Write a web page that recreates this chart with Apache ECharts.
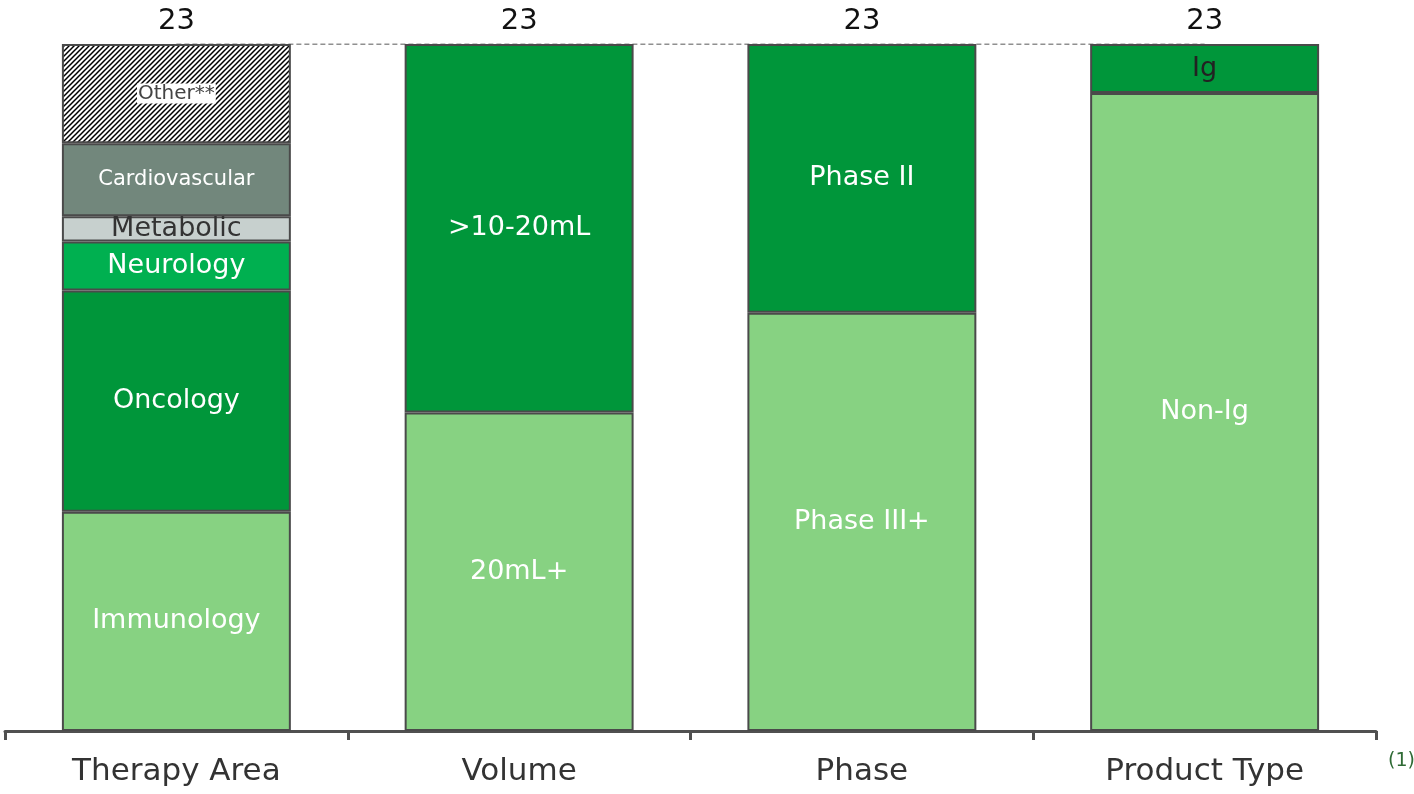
<!DOCTYPE html>
<html>
<head>
<meta charset="utf-8">
<script src="https://cdn.jsdelivr.net/npm/echarts@6/dist/echarts.min.js"></script>
<style>
  html, body { margin: 0; padding: 0; background: #fff; }
  #chart { width: 1414px; height: 794px; }
</style>
</head>
<body>
<div id="chart"></div>
<script>
const categories = ["Therapy Area", "Volume", "Phase", "Product Type"];
const totals = [23, 23, 23, 23];

// segments per bar, bottom to top (value = share of the 23 programs)
const therapyNames = ["Immunology", "Oncology", "Neurology", "Metabolic", "Cardiovascular", "Other**"];
const therapyValues = [7.34, 7.41, 1.64, 0.84, 2.45, 3.32];
const volumeNames = ["20mL+", ">10-20mL"];
const volumeValues = [10.66, 12.34];
const phaseNames = ["Phase III+", "Phase II"];
const phaseValues = [14, 9];
const productNames = ["Non-Ig", "Ig"];
const productValues = [21.36, 1.64];

const font = "DejaVu Sans";
const light = "#87d282";
const dark = "#00963a";

// hatch pattern for "Other**"
function hatch() {
  const c = document.createElement("canvas");
  c.width = 5;
  c.height = 5;
  const ctx = c.getContext("2d");
  ctx.fillStyle = "#fff";
  ctx.fillRect(0, 0, 5, 5);
  ctx.strokeStyle = "#000";
  ctx.lineWidth = 1.5;
  ctx.beginPath();
  ctx.moveTo(-1, 6); ctx.lineTo(6, -1);
  ctx.moveTo(-1, 1); ctx.lineTo(1, -1);
  ctx.moveTo(4, 6); ctx.lineTo(6, 4);
  ctx.stroke();
  return c;
}

const styles = {
  "Immunology": { color: light, text: "#fff", size: 27 },
  "Oncology": { color: dark, text: "#fff", size: 27 },
  "Neurology": { color: "#00b050", text: "#fff", size: 27 },
  "Metabolic": { color: "#c7d0ce", text: "#333", size: 27 },
  "Cardiovascular": { color: "#72877c", text: "#fff", size: 21 },
  "Other**": { color: { image: hatch(), repeat: "repeat" }, text: "#444", size: 20, bg: "#fff" },
  "20mL+": { color: light, text: "#fff", size: 27 },
  ">10-20mL": { color: dark, text: "#fff", size: 27 },
  "Phase III+": { color: light, text: "#fff", size: 27 },
  "Phase II": { color: dark, text: "#fff", size: 27 },
  "Non-Ig": { color: light, text: "#fff", size: 27 },
  "Ig": { color: dark, text: "#222", size: 27 },
};

function segSeries(names, values, idx) {
  return names.map((name, i) => {
    const st = styles[name];
    const data = categories.map((c, j) => (j === idx ? values[i] : "-"));
    return {
      name: name,
      type: "bar",
      stack: "total",
      barWidth: "66.8%",
      z: 3,
      data: data,
      itemStyle: { color: st.color, borderColor: "#4a4a4a", borderWidth: 2 },
      label: {
        show: true,
        position: "inside",
        formatter: name,
        color: st.text,
        fontFamily: font,
        fontSize: st.size,
        backgroundColor: st.bg || "transparent",
        padding: st.bg ? [0, 1] : 0,
      },
    };
  });
}

const series = [].concat(
  segSeries(therapyNames, therapyValues, 0),
  segSeries(volumeNames, volumeValues, 1),
  segSeries(phaseNames, phaseValues, 2),
  segSeries(productNames, productValues, 3),
  [{
    name: "total",
    type: "line",
    data: totals,
    z: 1,
    symbol: "circle",
    symbolSize: 0,
    lineStyle: { color: "#222", width: 1.2, type: [5, 3] },
    label: {
      show: true,
      position: "top",
      distance: 8,
      color: "#111",
      fontFamily: font,
      fontSize: 29,
    },
  }]
);

const chart = echarts.init(document.getElementById("chart"));
chart.setOption({
  animation: false,
  grid: { left: 5, right: 38, top: 44, bottom: 63 },
  xAxis: {
    type: "category",
    data: categories,
    axisLine: { lineStyle: { color: "#505050", width: 3 } },
    axisTick: { show: true, length: 9, lineStyle: { color: "#505050", width: 3 } },
    axisLabel: { color: "#333", fontFamily: font, fontSize: 31, margin: 25 },
  },
  yAxis: { type: "value", min: 0, max: 23, show: false, splitLine: { show: false } },
  series: series,
  graphic: [{
    type: "text",
    left: 1388,
    top: 752,
    style: { text: "(1)", fill: "#2f6b35", fontSize: 19, fontFamily: font },
  }],
});
</script>
</body>
</html>
